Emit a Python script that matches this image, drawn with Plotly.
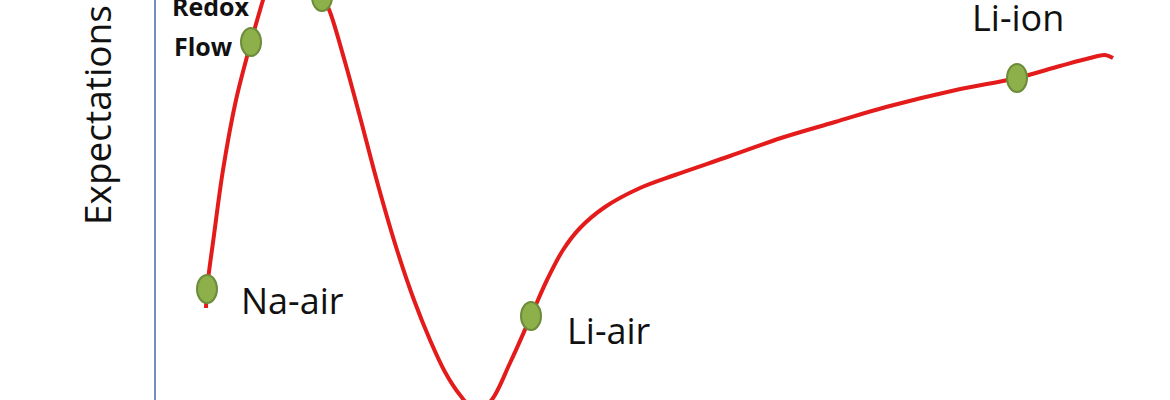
import plotly.graph_objects as go

# Hype-cycle curve (time on x, expectations on y)
curve_x = [206, 207, 214, 223, 236, 251, 263, 274, 289, 306, 318, 323, 330, 345, 360,
           378, 397, 414, 430, 445, 460, 475, 490, 510, 531, 547, 563, 580, 605, 640, 675,
           730, 781, 835, 886, 956, 1017, 1060, 1090, 1105, 1113]
curve_y = [92, 111, 165, 230, 300, 358, 400, 436, 458, 446, 415, 403, 388, 338, 283,
           215, 150, 100, 60, 28, 5, -10, -2, 37, 84, 120, 150, 172, 193, 212, 225,
           244, 262, 278, 293, 310, 322, 334, 342, 345, 342]

# technologies sitting on the curve
tech_names = ["Na-air", "Redox Flow", "", "Li-air", "Li-ion"]
tech_x = [207, 251, 322, 531, 1017]
tech_y = [111, 358, 403, 84, 322]

# label positions
label_text = ["Na-air", "Li-air", "Li-ion"]
label_x = [292, 609, 1018]
label_y = [100, 70, 383]
bold_text = ["Redox", "Flow"]
bold_x = [211, 203]
bold_y = [394, 354]

fig = go.Figure()

fig.add_trace(go.Scatter(x=curve_x, y=curve_y, mode='lines',
                         line=dict(color='#e41b1b', width=4, shape='spline', smoothing=1.0),
                         hoverinfo='skip', showlegend=False))

# green ellipses (taller than wide) anchored on each technology
for name, x, y in zip(tech_names, tech_x, tech_y):
    fig.add_shape(type='circle', xref='x', yref='y',
                  xsizemode='pixel', ysizemode='pixel', xanchor=x, yanchor=y,
                  x0=-10, x1=10, y0=-14, y1=14,
                  fillcolor='#8db04b', line=dict(color='#6c8c3a', width=2), layer='above')

for t, x, y in zip(label_text, label_x, label_y):
    fig.add_annotation(x=x, y=y, text=t, showarrow=False,
                       font=dict(family='Open Sans', size=36, color='#111111'))

for t, x, y in zip(bold_text, bold_x, bold_y):
    fig.add_annotation(x=x, y=y, text='<b>' + t + '</b>', showarrow=False,
                       font=dict(family='Open Sans', size=25, color='#111111'))

fig.add_annotation(xref='paper', yref='paper', x=97 / 1170, y=1 - 115 / 400,
                   xanchor='center', yanchor='middle',
                   text='Expectations', textangle=-90, showarrow=False,
                   font=dict(family='Open Sans', size=37, color='#111111'))

fig.update_layout(
    width=1170, height=400,
    margin=dict(l=0, r=0, t=0, b=0),
    paper_bgcolor='white', plot_bgcolor='white',
    showlegend=False,
    xaxis=dict(domain=[156 / 1170, 1], range=[156, 1170], visible=True,
               showgrid=False, zeroline=False, showticklabels=False, showline=False, ticks=''),
    yaxis=dict(range=[0, 400], showgrid=False, zeroline=False, showticklabels=False,
               showline=True, linecolor='#6f8fc4', linewidth=2, ticks=''),
)

fig.write_html("out.html", config={'displayModeBar': False},
               post_script="document.body.style.margin='0';")
